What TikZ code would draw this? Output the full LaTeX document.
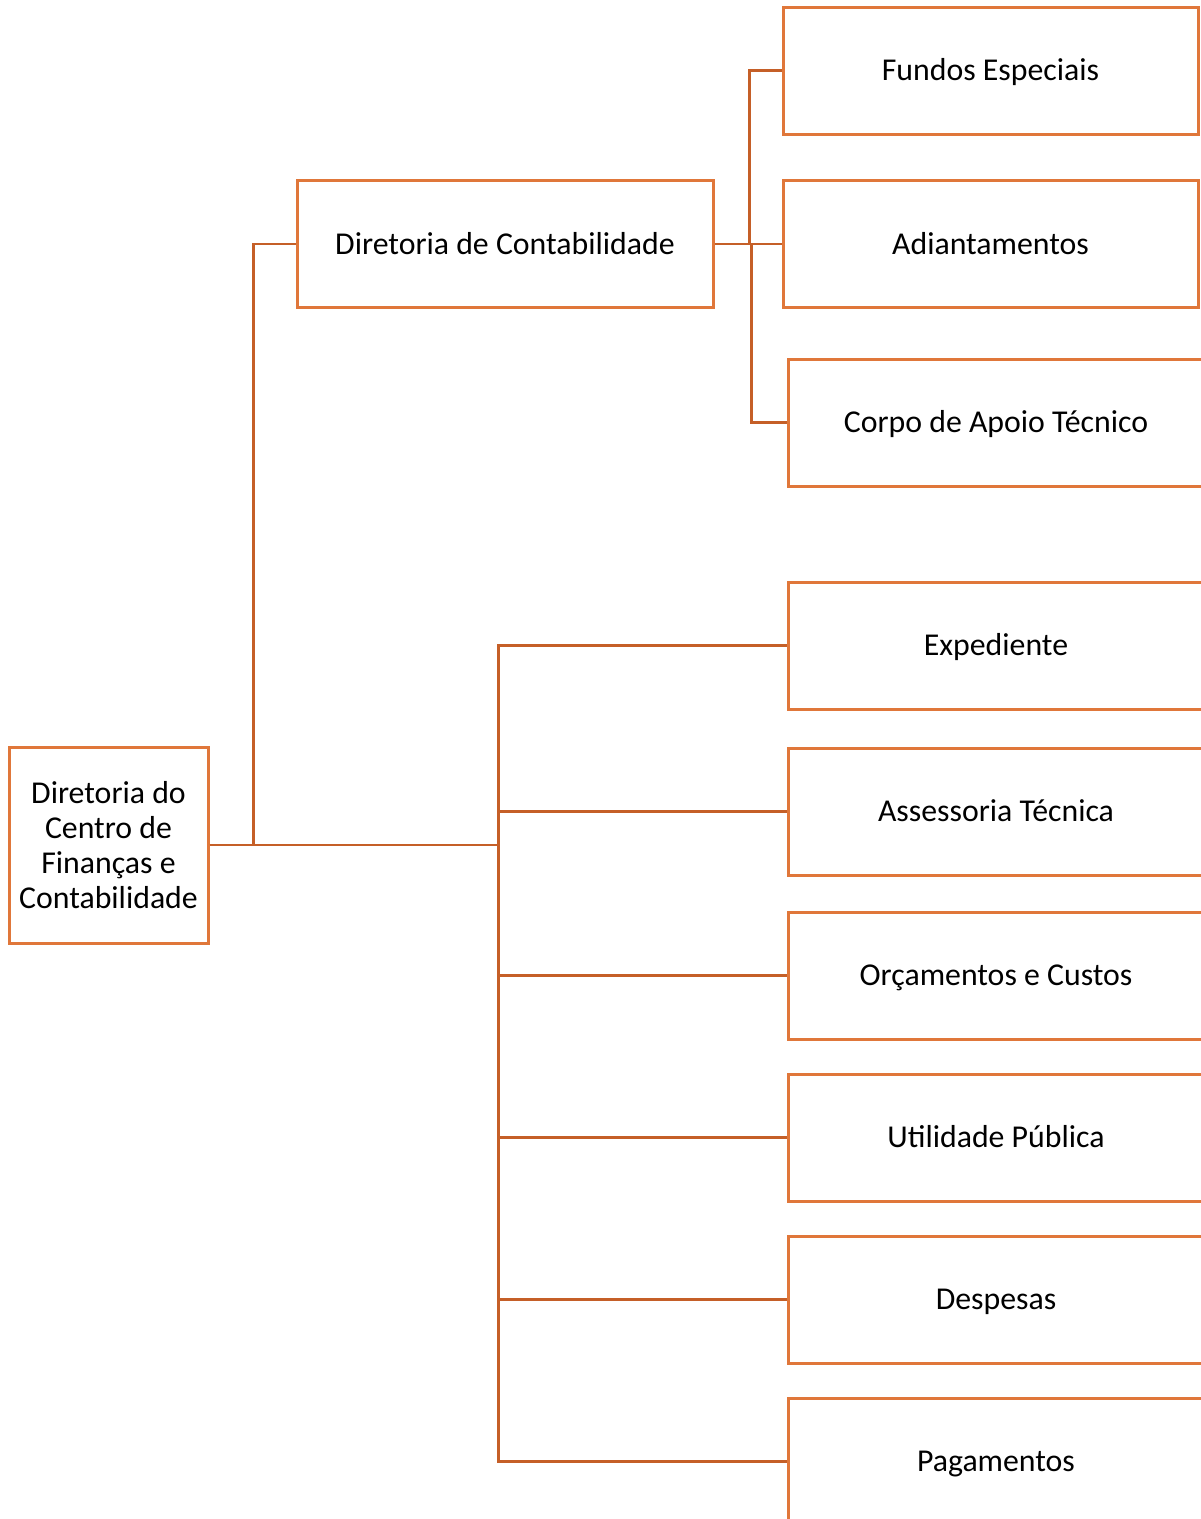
\documentclass[tikz,border=0pt]{standalone}
\usepackage{fontspec}
\setmainfont{Carlito}
\definecolor{boxorange}{HTML}{E0773A}
\definecolor{linkorange}{HTML}{C55F28}
\begin{document}
\begin{tikzpicture}[x=1pt,y=-1pt,
  every node/.style={font=\fontsize{31.8}{35}\selectfont},
  unit/.style={draw=boxorange, line width=3pt, fill=white, inner sep=0pt,
    minimum height=127pt, text height=24pt, text depth=3.5pt},
  wideunit/.style={unit, minimum width=416pt},
  link/.style={draw=linkorange, line width=2.8pt}]
\useasboundingbox (0,0) rectangle (1201,1519);
\clip (0,0) rectangle (1201,1519);

% root and the accounting board
\node[draw=boxorange, line width=3pt, fill=white, inner sep=0pt,
      minimum width=199pt, minimum height=196pt, align=center]
      (root) at (108.5,845) {Diretoria do\\Centro de\\Finanças e\\Contabilidade};
\node[wideunit] (dc) at (505,244) {Diretoria de Contabilidade};

% sections under the accounting board
\node[wideunit, minimum width=415pt] (fe) at (990.5,70.5) {Fundos Especiais};
\node[wideunit, minimum width=415pt] (ad) at (990.5,244) {Adiantamentos};
\node[wideunit] (ca) at (996,422.5) {Corpo de Apoio Técnico};

% sections directly under the root
\node[wideunit] (ex) at (996,645.5) {Expediente};
\node[wideunit] (at) at (996,811.5) {Assessoria Técnica};
\node[wideunit] (oc) at (996,975.5) {Orçamentos e Custos};
\node[wideunit] (up) at (996,1137.5) {Utilidade Pública};
\node[wideunit] (de) at (996,1299.5) {Despesas};
\node[wideunit] (pg) at (996,1461.5) {Pagamentos};

% connectors
\draw[link] (root.east) -- ++(44,0) |- (dc.west);
\draw[link] (root.east) -- ++(289,0) coordinate (bus);
\foreach \n in {ex,at,oc,up,de,pg}
  \draw[link] (bus) |- (\n.west);

\draw[link] (dc.east) -- ++(35,0) coordinate (tb);
\draw[link] (tb) |- (fe.west);
\draw[link] (tb) -- (ad.west);
\draw[link] ([xshift=2pt]tb) |- (ca.west);
\end{tikzpicture}
\end{document}
